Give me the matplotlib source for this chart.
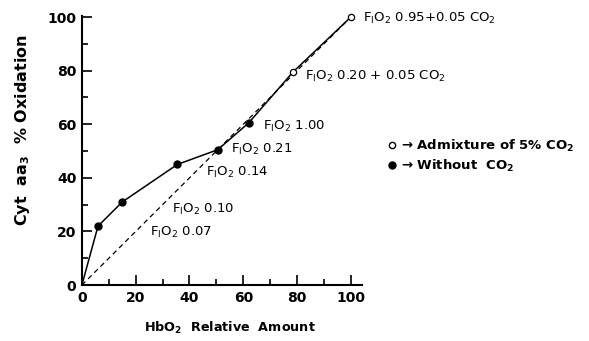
import numpy as np
import matplotlib
matplotlib.use("Agg")
import matplotlib.pyplot as plt
from matplotlib.lines import Line2D
from matplotlib.ticker import MultipleLocator

plt.rcParams['font.family'] = 'DejaVu Sans'
plt.rcParams['mathtext.default'] = 'regular'

# data
hbo2 = [0, 6, 15, 35.5, 50.5, 62, 78.5, 100]
cyt = [0, 22, 31, 45, 50.5, 60.5, 79.5, 100]
with_co2 = [False, False, False, False, False, False, True, True]
ref_line = [0, 100]

labels = ["F$_I$O$_2$ 0.95+0.05 CO$_2$", "F$_I$O$_2$ 0.20 + 0.05 CO$_2$",
          "F$_I$O$_2$ 1.00", "F$_I$O$_2$ 0.21", "F$_I$O$_2$ 0.14",
          "F$_I$O$_2$ 0.10", "F$_I$O$_2$ 0.07"]
label_xy = [(104.5, 99.3), (82.8, 78), (67.2, 59.1), (55.6, 50.6),
            (46.3, 42), (33.6, 28.3), (25.4, 19.7)]

fig = plt.figure(figsize=(5.89, 3.41), dpi=100)
ax = fig.add_axes([0.139, 0.164, 0.475, 0.790])

ax.plot(ref_line, ref_line, 'k--', lw=0.9, dashes=(4, 3))
ax.plot(hbo2, cyt, 'k-', lw=1.1, clip_on=False)
xs = np.array(hbo2)
ys = np.array(cyt)
m = np.array(with_co2)
ax.plot(xs[~m][1:], ys[~m][1:], 'o', color='k', ms=5, clip_on=False)
ax.plot(xs[m], ys[m], 'o', mfc='white', mec='k', mew=0.9, ms=4.5, clip_on=False, zorder=5)

for s, (x, y) in zip(labels, label_xy):
    ax.text(x, y, s, fontsize=9.5, va='center', ha='left')

ax.set_xlim(0, 104)
ax.set_ylim(0, 100.5)
ax.spines['top'].set_visible(False)
ax.spines['right'].set_visible(False)
for sp in ('left', 'bottom'):
    ax.spines[sp].set_linewidth(1.5)
ax.spines['left'].set_bounds(0, 100.5)

ax.xaxis.set_major_locator(MultipleLocator(20))
ax.xaxis.set_minor_locator(MultipleLocator(10))
ax.yaxis.set_major_locator(MultipleLocator(20))
ax.yaxis.set_minor_locator(MultipleLocator(10))
ax.tick_params(which='major', direction='in', length=7, width=1.2, labelsize=10, pad=4)
ax.tick_params(which='minor', direction='in', length=4.5, width=1.2)
for t in ax.get_xticklabels() + ax.get_yticklabels():
    t.set_fontweight('bold')

ax.set_xlabel("HbO$_2$  Relative  Amount", fontsize=9.2, fontweight='bold', labelpad=10)
ax.xaxis.set_label_coords(0.53, -0.13)
ax.set_ylabel("Cyt  aa$_3$  % Oxidation", fontsize=11.5, fontweight='bold', labelpad=8)
ax.yaxis.set_label_coords(-0.179, 0.575)

handles = [Line2D([], [], ls='', marker='o', mfc='white', mec='k', ms=4.5),
           Line2D([], [], ls='', marker='o', color='k', ms=5)]
ax.legend(handles, ["\u2192 Admixture of 5% CO$_2$", "\u2192 Without  CO$_2$"],
          loc='upper left', bbox_to_anchor=(381 / 589, 1 - 131 / 341),
          bbox_transform=fig.transFigure, frameon=False,
          prop={'size': 9.5, 'weight': 'bold'},
          handlelength=0.6, handletextpad=0.4, labelspacing=0.3, borderpad=0)

plt.savefig('out.png', dpi=100)
